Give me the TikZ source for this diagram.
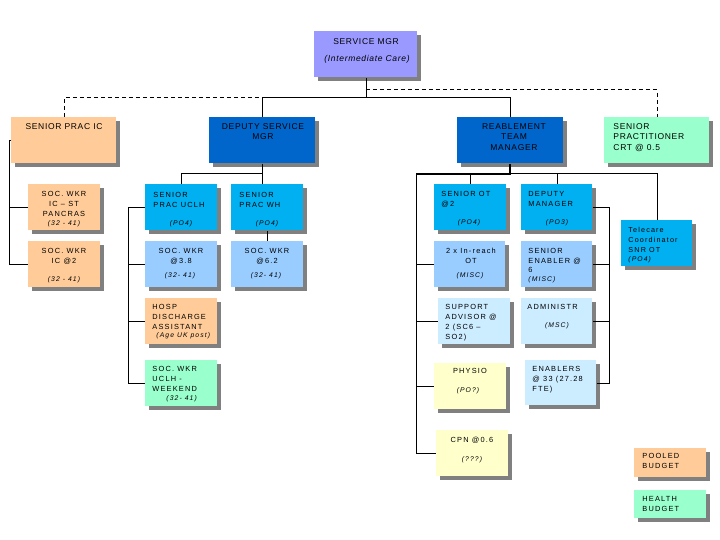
\documentclass[tikz,border=0pt]{standalone}
\usepackage{fontspec}
\setmainfont{Liberation Sans}
\newfontfamily\headfont[LetterSpace=8]{Liberation Sans}
\newfontfamily\cellfont[LetterSpace=16]{Liberation Sans}
\usetikzlibrary{shadows}

\definecolor{peach}{HTML}{FFCC99}
\definecolor{navy}{HTML}{0066CC}
\definecolor{sky}{HTML}{00B0F0}
\definecolor{pale}{HTML}{99CCFF}
\definecolor{paler}{HTML}{CCECFF}
\definecolor{cream}{HTML}{FFFFCC}
\definecolor{mint}{HTML}{99FFCC}
\definecolor{lav}{HTML}{9999FF}
\definecolor{shade}{HTML}{808080}

\tikzset{
  box/.style={rectangle, inner sep=0pt, anchor=north west,
    drop shadow={shadow xshift=4pt, shadow yshift=-4pt, opacity=1, fill=shade}},
  bigbox/.style={box, minimum width=105pt, minimum height=46pt},
  cellbox/.style={box, minimum width=72pt, minimum height=46pt},
  budget/.style={box, minimum width=72pt, minimum height=29pt},
  headtxt/.style={inner sep=0pt, align=center, anchor=north, font=\headfont\fontsize{8.5}{10.5}\selectfont},
  lefttxt/.style={inner sep=0pt, align=left, anchor=north west, font=\cellfont\fontsize{7.4}{10}\selectfont},
  midtxt/.style={inner sep=0pt, align=center, anchor=north, font=\cellfont\fontsize{7.4}{10}\selectfont},
  grade/.style={inner sep=0pt, anchor=north, font=\cellfont\itshape\fontsize{6.8}{8}\selectfont},
}

\begin{document}
\begin{tikzpicture}[x=1pt, y=-1pt, line width=0.9pt]
    \useasboundingbox (0,0) rectangle (720,540);

    % Top manager
    \node[box, minimum width=103pt, minimum height=46pt, fill=lav] (svc) at (314,31) {};
    \node[headtxt] (svc-t) at (366,38) {SERVICE MGR};
    \node[headtxt, font=\headfont\itshape\fontsize{8.5}{10.5}\selectfont] (svc-i) at (367,55) {(Intermediate Care)};

    % Second row
    \node[bigbox, fill=peach] (sprac) at (11,117) {};
    \node[headtxt] (sprac-t) at (64,123) {SENIOR PRAC IC};
    \node[bigbox, minimum width=106pt, fill=navy] (dep) at (209,117) {};
    \node[headtxt] (dep-t) at (263,123) {DEPUTY SERVICE\\MGR};
    \node[bigbox, minimum width=106pt, fill=navy] (reab) at (457,117) {};
    \node[headtxt] (reab-t) at (514,123) {REABLEMENT\\TEAM\\MANAGER};
    \node[bigbox, fill=mint] (crt) at (604,117) {};
    \node[headtxt, align=left, anchor=north west] (crt-t) at (613,123) {SENIOR\\PRACTITIONER\\CRT @ 0.5};

    % Lines from the top
    \coordinate (top) at ([yshift=-20pt]svc.south);
    \draw (svc.south) -- (top);
    \draw (dep.north) |- (top) -| (reab.north);
    \draw[dash pattern=on 4pt off 3pt] (sprac.north) |- (dep.north |- top);
    \draw[dash pattern=on 4pt off 3pt] ([yshift=-12pt]svc.south) -| (crt.north);

    % Senior prac IC team
    \node[cellbox, fill=peach] (swst) at (28,184) {};
    \node[midtxt] (swst-t) at (64,191) {SOC. WKR\\IC – ST\\PANCRAS};
    \node[grade] (swst-g) at (64,220) {(32 - 41)};
    \node[cellbox, fill=peach] (swic) at (28,241) {};
    \node[midtxt] (swic-t) at (64,248) {SOC. WKR\\IC @2};
    \node[grade] (swic-g) at (64,276) {(32 - 41)};
    \draw (sprac.west) -- ++(-2,0) coordinate (sl) |- (swst.west);
    \draw (sl) |- (swic.west);

    % Deputy service manager team
    \node[cellbox, fill=sky] (uclh) at (145,184) {};
    \node[lefttxt] (uclh-t) at (153,192) {SENIOR\\PRAC UCLH};
    \node[grade] (uclh-g) at (181,220) {(PO4)};
    \node[cellbox, fill=sky] (wh) at (231,184) {};
    \node[lefttxt] (wh-t) at (239,192) {SENIOR\\PRAC WH};
    \node[grade] (wh-g) at (267,220) {(PO4)};
    \node[cellbox, fill=pale] (sw38) at (145,241) {};
    \node[midtxt] (sw38-t) at (181,248) {SOC. WKR\\@3.8};
    \node[grade] (sw38-g) at (180,272) {(32- 41)};
    \node[cellbox, fill=pale] (sw62) at (231,241) {};
    \node[midtxt] (sw62-t) at (267,248) {SOC. WKR\\@6.2};
    \node[grade] (sw62-g) at (266,272) {(32- 41)};
    \node[cellbox, fill=peach] (hosp) at (145,298) {};
    \node[lefttxt] (hosp-t) at (152,304) {HOSP\\DISCHARGE\\ASSISTANT};
    \node[grade, anchor=north west] (hosp-g) at (156,332) {(Age UK post)};
    \node[cellbox, fill=mint] (wkend) at (145,360) {};
    \node[lefttxt] (wkend-t) at (152,366) {SOC. WKR\\UCLH -\\WEEKEND};
    \node[grade, anchor=north west] (wkend-g) at (166,395) {(32- 41)};

    \coordinate (dj) at ([yshift=-10pt]dep.south);
    \draw (dep.south) -- (dep.south |- wh.north);
    \draw (uclh.north) |- (dj);
    \draw (wh.south) -- (sw62.north);
    \coordinate (dl) at ([xshift=-17pt]uclh.west);
    \draw (uclh.west) -- (dl) |- (wkend.west);
    \draw (dl) |- (sw38.west);
    \draw (dl) |- (hosp.west);

    % Reablement team
    \node[cellbox, fill=sky] (sot) at (434,184) {};
    \node[lefttxt] (sot-t) at (441,191) {SENIOR OT\\@2};
    \node[grade] (sot-g) at (469,219) {(PO4)};
    \node[cellbox, minimum width=71pt, fill=sky] (dmgr) at (521,184) {};
    \node[lefttxt] (dmgr-t) at (528,191) {DEPUTY\\MANAGER};
    \node[grade] (dmgr-g) at (557,219) {(PO3)};
    \node[cellbox, minimum width=71pt, fill=pale] (inreach) at (434,241) {};
    \node[midtxt] (inreach-t) at (471,248) {2 x In-reach\\OT};
    \node[grade] (inreach-g) at (470,272) {(MISC)};
    \node[cellbox, minimum width=71pt, fill=pale] (senen) at (521,241) {};
    \node[lefttxt, font=\cellfont\fontsize{7.4}{9.5}\selectfont] (senen-t) at (528,248) {SENIOR\\ENABLER @\\6};
    \node[grade, anchor=north west] (senen-g) at (528,276) {(MISC)};
    \node[cellbox, fill=paler] (supp) at (438,298) {};
    \node[lefttxt] (supp-t) at (445,304) {SUPPORT\\ADVISOR @\\2 (SC6 –\\SO2)};
    \node[cellbox, minimum width=71pt, fill=paler] (admin) at (521,298) {};
    \node[lefttxt] (admin-t) at (527,304) {ADMINISTR};
    \node[grade] (admin-g) at (557,322) {(MSC)};
    \node[cellbox, fill=cream] (physio) at (434,363) {};
    \node[midtxt] (physio-t) at (470,368) {PHYSIO};
    \node[grade] (physio-g) at (468,387) {(PO?)};
    \node[cellbox, minimum width=71pt, minimum height=45pt, fill=paler] (enab) at (525,360) {};
    \node[lefttxt] (enab-t) at (532,366) {ENABLERS\\@ 33 (27.28\\FTE)};
    \node[cellbox, fill=cream] (cpn) at (436,430) {};
    \node[midtxt] (cpn-t) at (472,437) {CPN @0.6};
    \node[grade] (cpn-g) at (472,456) {(???)};
    \node[cellbox, minimum width=71pt, fill=sky] (tele) at (621,220) {};
    \node[lefttxt, font=\cellfont\fontsize{7.2}{9.7}\selectfont] (tele-t) at (628,227) {Telecare\\Coordinator\\SNR OT};
    \node[grade, anchor=north west] (tele-g) at (628,256) {(PO4)};

    \coordinate (rj) at ([yshift=-10pt]reab.south);
    \coordinate (rl) at ([xshift=-18pt]sot.west);
    \draw[line width=2pt] (reab.south) -- (rj) -- (rl |- rj);
    \draw (rj) -| (tele.north);
    \draw (sot.north) -- (sot.north |- rj);
    \draw (dmgr.north) -- (dmgr.north |- rj);
    \draw (rl |- rj) |- (cpn.west);
    \draw (rl |- rj) |- (inreach.west);
    \draw (rl |- rj) |- (supp.west);
    \draw (rl |- rj) |- (physio.west);
    \coordinate (rr) at ([xshift=17pt]dmgr.east);
    \draw (dmgr.east) -- (rr) |- (enab.east);
    \draw (rr) |- (senen.east);
    \draw (rr) |- (admin.east);

    % Key
    \node[budget, fill=peach] (pooled) at (634,448) {};
    \node[lefttxt] (pooled-t) at (642,453) {POOLED\\BUDGET};
    \node[budget, minimum height=28pt, fill=mint] (health) at (634,490) {};
    \node[lefttxt] (health-t) at (642,496) {HEALTH\\BUDGET};

\end{tikzpicture}
\end{document}
